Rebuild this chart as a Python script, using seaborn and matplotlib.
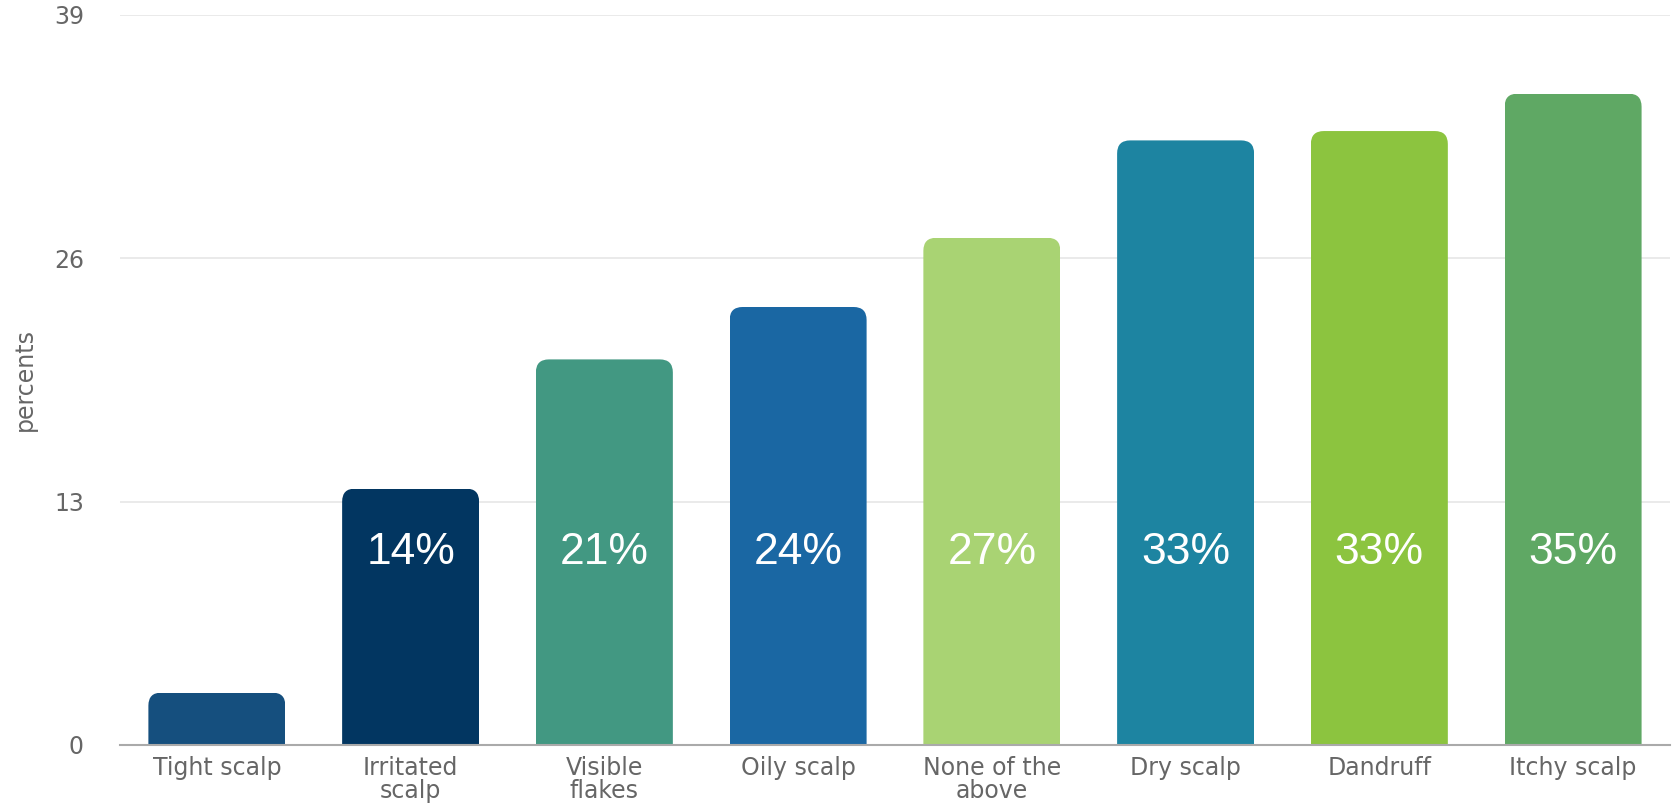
import numpy as np
import pandas as pd
import seaborn as sns
import matplotlib.pyplot as plt
from matplotlib.patches import FancyBboxPatch

# Survey answers (percent of respondents)
categories = ['Tight scalp', 'Irritated\nscalp', 'Visible\nflakes', 'Oily scalp',
              'None of the\nabove', 'Dry scalp', 'Dandruff', 'Itchy scalp']
values = [2.8, 13.7, 20.6, 23.4, 27.1, 32.3, 32.8, 34.8]
value_labels = ['', '14%', '21%', '24%', '27%', '33%', '33%', '35%']
bar_colors = ['#154f7e', '#023661', '#429882', '#1a67a3',
              '#a9d373', '#1d84a1', '#8cc43f', '#5fa864']
y_ticks = [0, 13, 26, 39]

df = pd.DataFrame({'Symptom': categories, 'Percent': values})

sns.set_style('white')
plt.rcParams['font.family'] = ['DejaVu Sans']

fig = plt.figure(figsize=(16.76, 8.06), dpi=100)
ax = fig.add_axes([0.0716, 0.0757, 0.9248, 0.9057])

sns.barplot(data=df, x='Symptom', y='Percent', hue='Symptom', palette=bar_colors,
            width=0.707, legend=False, saturation=1, ax=ax)

ax.set_xlim(-0.5, len(categories) - 0.5)
ax.set_ylim(0, 39)

# round the top corners of each bar with a clip path
fig.canvas.draw()
px_x = ax.transData.transform((1, 0))[0] - ax.transData.transform((0, 0))[0]
px_y = ax.transData.transform((0, 1))[1] - ax.transData.transform((0, 0))[1]
aspect = px_x / px_y
r = 13 / px_x
for p in ax.patches:
    x0, w, h = p.get_x(), p.get_width(), p.get_height()
    clip = FancyBboxPatch((x0, -2), w, h + 2,
                          boxstyle=f'round,pad=0,rounding_size={r}',
                          mutation_aspect=aspect, transform=ax.transData)
    p.set_clip_path(clip)
    p.set_edgecolor('none')

# white percentage labels, all at the same height
for i, lab in enumerate(value_labels):
    if lab:
        ax.text(i, 10.3, lab, ha='center', va='center', color='white',
                fontsize=32, family=['Liberation Sans', 'DejaVu Sans'])

ax.set_yticks(y_ticks)
ax.yaxis.grid(True, color='#e6e6e6', linewidth=1.2)
ax.set_axisbelow(True)
for s in ['top', 'right', 'left']:
    ax.spines[s].set_visible(False)
ax.spines['bottom'].set_color('#aaaaaa')
ax.spines['bottom'].set_linewidth(1.5)

ax.tick_params(axis='y', length=0, pad=26, labelsize=17, labelcolor='#666666')
ax.tick_params(axis='x', length=0, pad=8, labelsize=17, labelcolor='#666666')
for t in ax.get_xticklabels():
    t.set_linespacing(0.95)
    t.set_va('top')

ax.set_xlabel('')
ax.set_ylabel('percents', fontsize=17, color='#666666')
ax.yaxis.label.set_va('center')
ax.yaxis.set_label_coords(-0.0613, 0.5)

plt.savefig('out.png', dpi=100)
plt.close()
